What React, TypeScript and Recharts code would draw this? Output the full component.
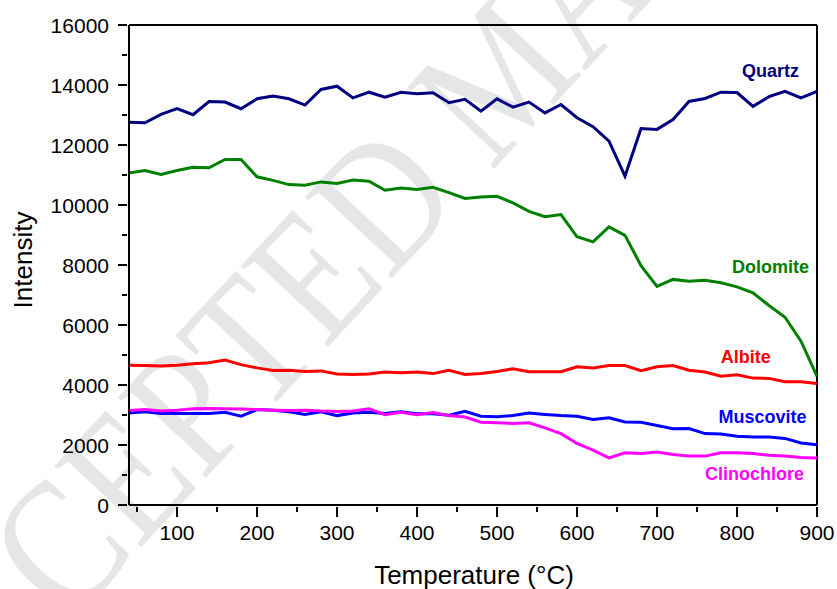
import React from "react";
import { Line, LineChart, ReferenceDot, ReferenceLine, XAxis, YAxis } from "recharts";

const temperatures = [
  40, 60, 80, 100, 120, 140, 160, 180, 200, 220, 240, 260, 280, 300,
  320, 340, 360, 380, 400, 420, 440, 460, 480, 500, 520, 540, 560, 580,
  600, 620, 640, 660, 680, 700, 720, 740, 760, 780, 800, 820, 840, 860, 880, 900,
];

const quartz = [
  12760, 12740, 13020, 13210, 13010, 13450, 13430, 13210, 13540, 13630, 13540, 13330, 13850, 13960,
  13570, 13760, 13590, 13760, 13710, 13740, 13410, 13520, 13130, 13540, 13260, 13430, 13070, 13350,
  12910, 12610, 12130, 10960, 12550, 12520, 12850, 13450, 13550, 13760, 13750, 13290, 13610, 13790, 13570, 13790,
];

const dolomite = [
  11070, 11150, 11020, 11150, 11260, 11240, 11520, 11520, 10940, 10820, 10680, 10660, 10770, 10720,
  10830, 10790, 10490, 10570, 10520, 10590, 10410, 10220, 10270, 10290, 10070, 9790, 9610, 9680,
  8940, 8770, 9270, 8990, 7980, 7290, 7520, 7460, 7490, 7410, 7270, 7070, 6650, 6260, 5460, 4290,
];

const albite = [
  4660, 4650, 4630, 4660, 4710, 4740, 4830, 4680, 4570, 4480, 4490, 4450, 4470, 4370,
  4350, 4370, 4430, 4410, 4430, 4380, 4490, 4350, 4380, 4450, 4540, 4440, 4440, 4440,
  4610, 4570, 4650, 4650, 4480, 4610, 4650, 4490, 4430, 4290, 4340, 4230, 4220, 4110, 4110, 4050,
];

const muscovite = [
  3070, 3110, 3050, 3050, 3050, 3050, 3090, 2960, 3180, 3160, 3110, 3020, 3110, 2980,
  3070, 3090, 3050, 3110, 3040, 3040, 2990, 3120, 2960, 2940, 2980, 3070, 3020, 2980,
  2960, 2850, 2910, 2770, 2760, 2650, 2540, 2550, 2380, 2370, 2290, 2270, 2270, 2220, 2070, 2010,
];

const clinochlore = [
  3150, 3180, 3130, 3160, 3210, 3220, 3210, 3200, 3180, 3160, 3150, 3160, 3130, 3120,
  3130, 3210, 3010, 3090, 3010, 3080, 2980, 2930, 2760, 2740, 2720, 2740, 2570, 2380,
  2050, 1830, 1570, 1740, 1720, 1770, 1680, 1630, 1630, 1740, 1740, 1720, 1660, 1630, 1580, 1570,
];

const xTicks = [50, 100, 150, 200, 250, 300, 350, 400, 450, 500, 550, 600, 650, 700, 750, 800, 850, 900];
const yTicks = [
  0, 1000, 2000, 3000, 4000, 5000, 6000, 7000, 8000,
  9000, 10000, 11000, 12000, 13000, 14000, 15000, 16000,
];

// series name, colour, and where its name is written (data coordinates)
const series = [
  { key: "Quartz", color: "#000080", values: quartz, labelAt: [842, 14480] },
  { key: "Dolomite", color: "#008000", values: dolomite, labelAt: [842, 7960] },
  { key: "Albite", color: "#ff0000", values: albite, labelAt: [811, 4930] },
  { key: "Muscovite", color: "#0000ff", values: muscovite, labelAt: [832, 2940] },
  { key: "Clinochlore", color: "#ff00ff", values: clinochlore, labelAt: [822, 1040] },
];

const data = temperatures.map((t, i) => {
  const row: Record<string, number> = { t };
  series.forEach((s) => (row[s.key] = s.values[i]));
  return row;
});

const FONT = "'Liberation Sans', Arial, sans-serif";

const XTick = (props: any) => {
  const { x, y, payload } = props;
  const major = payload.value % 100 === 0;
  return (
    <g>
      <line x1={x} x2={x} y1={y} y2={y + (major ? 10 : 5)} stroke="#000" strokeWidth={2} />
      {major && (
        <text x={x} y={y + 33} textAnchor="middle" fontSize={21} fontFamily={FONT} fill="#000">
          {payload.value}
        </text>
      )}
    </g>
  );
};

const YTick = (props: any) => {
  const { x, y, payload } = props;
  const major = payload.value % 2000 === 0;
  return (
    <g>
      <line x1={x} x2={x - (major ? 9 : 5)} y1={y} y2={y} stroke="#000" strokeWidth={2} />
      {major && (
        <text x={x - 18} y={y + 7.5} textAnchor="end" fontSize={21} fontFamily={FONT} fill="#000">
          {payload.value}
        </text>
      )}
    </g>
  );
};

export default function App() {
  return (
    <div style={{ position: "absolute", left: 0, top: 0, width: 837, height: 589, background: "#fff", overflow: "hidden" }}>
      <svg width={837} height={589} style={{ position: "absolute", left: 0, top: 0 }}>
        {/* faint diagonal stamp behind the plot */}
        <text
          x={0}
          y={0}
          transform="translate(-78 782) rotate(-47) scale(1 1.18)"
          fontSize={154}
          fontFamily="'Liberation Serif', 'Times New Roman', serif"
          fill="#e6e6e6"
        >
          ACCEPTED MANUSCRIPT
        </text>
        <text
          x={0}
          y={0}
          transform="translate(32 260) rotate(-90)"
          textAnchor="middle"
          fontSize={26}
          fontFamily={FONT}
          fill="#000"
        >
          Intensity
        </text>
        <text x={474} y={584} textAnchor="middle" fontSize={26} fontFamily={FONT} fill="#000">
          Temperature (°C)
        </text>
      </svg>
      <div style={{ position: "absolute", left: 0, top: 0 }}>
        <LineChart width={837} height={589} data={data} margin={{ top: 25, right: 20, bottom: 54, left: 69 }}>
          <XAxis
            dataKey="t"
            type="number"
            domain={[40, 900]}
            ticks={xTicks}
            allowDataOverflow
            height={30}
            tickSize={0}
            tickLine={false}
            tick={<XTick />}
            axisLine={{ stroke: "#000", strokeWidth: 2 }}
            interval={0}
          />
          <YAxis
            type="number"
            domain={[0, 16000]}
            ticks={yTicks}
            width={60}
            tickSize={0}
            tickLine={false}
            tick={<YTick />}
            axisLine={{ stroke: "#000", strokeWidth: 2 }}
            interval={0}
          />
          <ReferenceLine y={16000} stroke="#000" strokeWidth={2} />
          <ReferenceLine x={900} stroke="#000" strokeWidth={2} />
          {series.map((s) => (
            <Line
              key={s.key}
              dataKey={s.key}
              stroke={s.color}
              strokeWidth={3}
              dot={false}
              isAnimationActive={false}
            />
          ))}
          {series.map((s) => (
            <ReferenceDot
              key={`lbl-${s.key}`}
              x={s.labelAt[0]}
              y={s.labelAt[1]}
              r={0}
              fill="none"
              stroke="none"
              label={{
                value: s.key,
                position: "center",
                fill: s.color,
                fontSize: 18,
                fontWeight: "bold",
                fontFamily: FONT,
              }}
            />
          ))}
        </LineChart>
      </div>
    </div>
  );
}
